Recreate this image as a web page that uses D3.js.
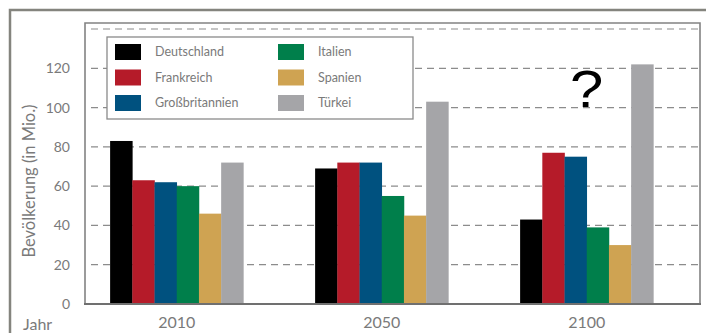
<!DOCTYPE html>
<html>
<head>
<meta charset="utf-8">
<script src="https://cdn.jsdelivr.net/npm/d3@7"></script>
<style>
  html, body { margin: 0; padding: 0; background: #fff; }
  svg { display: block; font-family: Lato, "Open Sans", sans-serif; }
</style>
</head>
<body>
<svg id="chart" width="706" height="333"></svg>
<script>
// Bevölkerungsentwicklung ausgewählter Länder (in Mio.)
const years = ["2010", "2050", "2100"];
const countries = ["Deutschland", "Frankreich", "Großbritannien", "Italien", "Spanien", "Türkei"];
const colors = ["#000000", "#b51b29", "#00517f", "#007f4b", "#cfa352", "#a5a5a8"];
const deutschland = [83, 69, 43];
const frankreich = [63, 72, 77];
const grossbritannien = [62, 72, 75];
const italien = [60, 55, 39];
const spanien = [46, 45, 30];
const tuerkei = [72, 103, 122];
const yTicks = [0, 20, 40, 60, 80, 100, 120];
const gridValues = [20, 40, 60, 80, 100, 120, 140];

const series = [deutschland, frankreich, grossbritannien, italien, spanien, tuerkei];

const svg = d3.select("#chart");
const plotLeft = 85, plotRight = 700, plotTop = 23, plotBottom = 304;

const y = d3.scaleLinear().domain([0, 120]).range([plotBottom, 68.3]);
const x0 = d3.scaleBand().domain(years).range([plotLeft, plotRight])
  .paddingInner(0.35).paddingOuter(0.175).align(0.35);
const x1 = d3.scaleBand().domain(countries).range([0, x0.bandwidth()]);

// outer frame
svg.append("path")
  .attr("d", `M10,333 L10,10 L706,10`)
  .attr("fill", "none").attr("stroke", "#84847e").attr("stroke-width", 2.5);

// dashed grid lines
svg.append("g").selectAll("line").data(gridValues).join("line")
  .attr("x1", plotLeft + 6).attr("x2", plotRight)
  .attr("y1", d => y(d)).attr("y2", d => y(d))
  .attr("stroke", "#8c8c8c").attr("stroke-width", 1.2)
  .attr("stroke-dasharray", "7,5");

// bars
const groups = svg.append("g").selectAll("g").data(years).join("g")
  .attr("transform", d => `translate(${x0(d)},0)`);
groups.selectAll("rect")
  .data((yr, i) => countries.map((c, j) => ({ c, v: series[j][i], color: colors[j] })))
  .join("rect")
  .attr("x", d => x1(d.c))
  .attr("width", x1.bandwidth() + 0.3)
  .attr("y", d => y(d.v))
  .attr("height", d => y(0) - y(d.v))
  .attr("fill", d => d.color);

// plot frame
svg.append("path")
  .attr("d", `M${plotLeft},${plotBottom} L${plotLeft},${plotTop} L${plotRight},${plotTop} L${plotRight},${plotBottom}`)
  .attr("fill", "none").attr("stroke", "#838383").attr("stroke-width", 1.6);
svg.append("line")
  .attr("x1", plotLeft - 1).attr("x2", plotRight + 1).attr("y1", plotBottom).attr("y2", plotBottom)
  .attr("stroke", "#707070").attr("stroke-width", 2);

// y axis tick labels
const yAxis = d3.axisLeft(y).tickValues(yTicks).tickSize(0).tickPadding(15);
const gy = svg.append("g").attr("transform", `translate(${plotLeft},0)`).call(yAxis);
gy.select(".domain").remove();
gy.selectAll("text").attr("fill", "#7a7a7a").style("font-size", "14px")
  .style("font-family", "Lato, sans-serif");

// x axis labels
const xAxis = d3.axisBottom(x0).tickSize(0).tickPadding(13);
const gx = svg.append("g").attr("transform", `translate(0,${plotBottom})`).call(xAxis);
gx.select(".domain").remove();
gx.selectAll("text").attr("fill", "#7a7a7a").style("font-size", "16px")
  .style("font-family", "Lato, sans-serif");

// axis titles
svg.append("text").attr("x", 23).attr("y", 330).text("Jahr")
  .attr("fill", "#7a7a7a").style("font-size", "16px");
svg.append("text")
  .attr("transform", "translate(35,181) rotate(-90)")
  .attr("text-anchor", "middle")
  .text("Bevölkerung (in Mio.)")
  .attr("fill", "#7a7a7a").style("font-size", "16.5px");

// legend
const lg = svg.append("g");
lg.append("rect").attr("x", 107).attr("y", 37).attr("width", 306).attr("height", 82)
  .attr("fill", "#fff").attr("stroke", "#8a8a8a").attr("stroke-width", 1.3);
countries.forEach((c, i) => {
  const col = Math.floor(i / 3), row = i % 3;
  const sx = 115 + col * 163, sy = 44 + row * 25.5;
  lg.append("rect").attr("x", sx).attr("y", sy).attr("width", 26).attr("height", 16)
    .attr("fill", colors[i]);
  lg.append("text").attr("x", sx + 40).attr("y", sy + 8).attr("dy", "0.35em")
    .text(c).attr("fill", "#7a7a7a").style("font-size", "12.5px");
});

// question mark over the 2100 forecast
const qx = x0("2100") + x0.bandwidth() / 2;
svg.append("text")
  .attr("transform", `translate(${qx},107) scale(1.15,1)`)
  .attr("text-anchor", "middle")
  .style("font-family", "'Liberation Sans', Arial, sans-serif")
  .style("font-size", "52px")
  .attr("fill", "#000")
  .text("?");
</script>
</body>
</html>
